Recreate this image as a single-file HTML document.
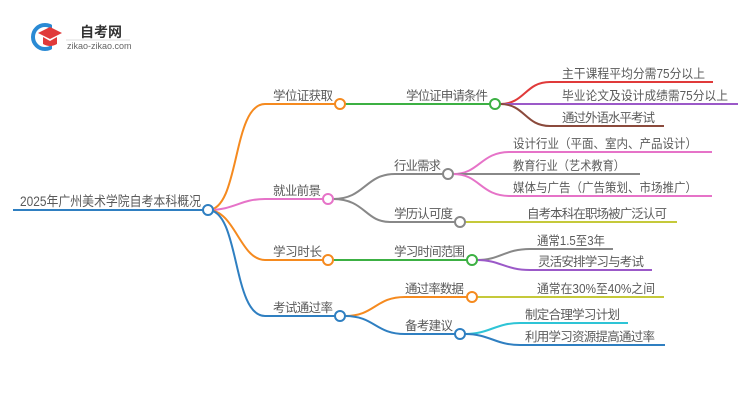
<!DOCTYPE html>
<html><head><meta charset="utf-8"><style>
html,body{margin:0;padding:0;background:#fff;}
svg text{font-family:"Liberation Sans","Noto Sans CJK SC",sans-serif;font-size:12.5px;fill:#5a5a5a;}
</style></head><body>
<svg width="750" height="410" viewBox="0 0 750 410" xmlns="http://www.w3.org/2000/svg">
<!-- logo -->
<circle cx="45" cy="37" r="12" fill="none" stroke="#2a8ad4" stroke-width="4"/>
<rect x="52" y="22" width="14" height="28" fill="#fff"/>
<path d="M38 33 L50 27 L62 33 L50 39 Z" fill="#e03a3a"/>
<path d="M43 37 L43 44 Q50 48 57 44 L57 37 L50 41 Z" fill="#e03a3a"/>
<text x="80" y="37" style="font-size:14px;font-weight:bold;fill:#333">自考网</text>
<line x1="66" y1="40" x2="130" y2="40" stroke="#ddd" stroke-width="1"/>
<text x="67" y="49" style="font-size:9px;fill:#666">zikao-zikao.com</text>

<g fill="none" stroke-width="2">
<line x1="13" y1="210" x2="203" y2="210" stroke="#2f7fc1"/>
<path d="M208 210 C240 210 232 104 265 104 L335 104" stroke="#f58a1f"/>
<path d="M208 210 C235 210 240 199 265 199 L323 199" stroke="#e673c8"/>
<path d="M208 210 C235 210 240 260 265 260 L323 260" stroke="#f58a1f"/>
<path d="M208 210 C240 210 232 316 265 316 L335 316" stroke="#2f7fc1"/>
<line x1="345" y1="104" x2="490" y2="104" stroke="#3cb043"/>
<path d="M333 199 C365 199 365 174 395 174 L443 174" stroke="#888"/>
<path d="M333 199 C365 199 365 222 390 222 L455 222" stroke="#888"/>
<line x1="333" y1="260" x2="467" y2="260" stroke="#3cb043"/>
<path d="M345 316 C375 316 375 297 405 297 L467 297" stroke="#f58a1f"/>
<path d="M345 316 C375 316 375 334 405 334 L455 334" stroke="#2f7fc1"/>
<path d="M500 104 C525 104 525 82 550 82 L713 82" stroke="#e03a3a"/>
<line x1="500" y1="104" x2="738" y2="104" stroke="#9b59c8"/>
<path d="M500 104 C525 104 525 126 550 126 L664 126" stroke="#8b4a3c"/>
<path d="M453 174 C480 174 480 152 510 152 L712 152" stroke="#e673c8"/>
<line x1="453" y1="174" x2="640" y2="174" stroke="#888"/>
<path d="M453 174 C480 174 480 196 510 196 L712 196" stroke="#e673c8"/>
<line x1="465" y1="222" x2="677" y2="222" stroke="#c5c93a"/>
<path d="M477 260 C500 260 505 249 530 249 L613 249" stroke="#888"/>
<path d="M477 260 C500 260 505 270 530 270 L652 270" stroke="#9b59c8"/>
<line x1="477" y1="297" x2="664" y2="297" stroke="#c5c93a"/>
<path d="M465 334 C490 334 495 323 520 323 L628 323" stroke="#2ec4d6"/>
<path d="M465 334 C490 334 495 345 520 345 L665 345" stroke="#2f7fc1"/>
</g>
<g fill="#fff" stroke-width="2">
<circle cx="208" cy="210" r="5" stroke="#2f7fc1"/>
<circle cx="340" cy="104" r="5" stroke="#f58a1f"/>
<circle cx="328" cy="199" r="5" stroke="#e673c8"/>
<circle cx="328" cy="260" r="5" stroke="#f58a1f"/>
<circle cx="340" cy="316" r="5" stroke="#2f7fc1"/>
<circle cx="495" cy="104" r="5" stroke="#3cb043"/>
<circle cx="448" cy="174" r="5" stroke="#888"/>
<circle cx="460" cy="222" r="5" stroke="#888"/>
<circle cx="472" cy="260" r="5" stroke="#3cb043"/>
<circle cx="472" cy="297" r="5" stroke="#f58a1f"/>
<circle cx="460" cy="334" r="5" stroke="#2f7fc1"/>
</g>
<text x="20" y="206" textLength="181" lengthAdjust="spacingAndGlyphs" style="font-size:13.5px">2025年广州美术学院自考本科概况</text>
<text x="273" y="100" textLength="60">学位证获取</text>
<text x="273" y="195" textLength="48">就业前景</text>
<text x="273" y="256" textLength="49">学习时长</text>
<text x="273" y="312" textLength="60">考试通过率</text>
<text x="406" y="100" textLength="82">学位证申请条件</text>
<text x="394" y="170" textLength="47">行业需求</text>
<text x="394" y="218" textLength="59">学历认可度</text>
<text x="394" y="256" textLength="71">学习时间范围</text>
<text x="405" y="293" textLength="59">通过率数据</text>
<text x="405" y="330" textLength="48">备考建议</text>
<text x="562" y="78" textLength="143" lengthAdjust="spacingAndGlyphs">主干课程平均分需75分以上</text>
<text x="562" y="100" textLength="166" lengthAdjust="spacingAndGlyphs">毕业论文及设计成绩需75分以上</text>
<text x="562" y="122" textLength="93">通过外语水平考试</text>
<text x="513" y="148" textLength="184" lengthAdjust="spacingAndGlyphs">设计行业（平面、室内、产品设计）</text>
<text x="513" y="170" textLength="112" lengthAdjust="spacingAndGlyphs">教育行业（艺术教育）</text>
<text x="513" y="192" textLength="184" lengthAdjust="spacingAndGlyphs">媒体与广告（广告策划、市场推广）</text>
<text x="527" y="218" textLength="140">自考本科在职场被广泛认可</text>
<text x="537" y="245" textLength="68" lengthAdjust="spacingAndGlyphs">通常1.5至3年</text>
<text x="538" y="266" textLength="106">灵活安排学习与考试</text>
<text x="537" y="293" textLength="118" lengthAdjust="spacingAndGlyphs">通常在30%至40%之间</text>
<text x="525" y="319" textLength="95">制定合理学习计划</text>
<text x="525" y="341" textLength="130">利用学习资源提高通过率</text>
</svg>
</body></html>
